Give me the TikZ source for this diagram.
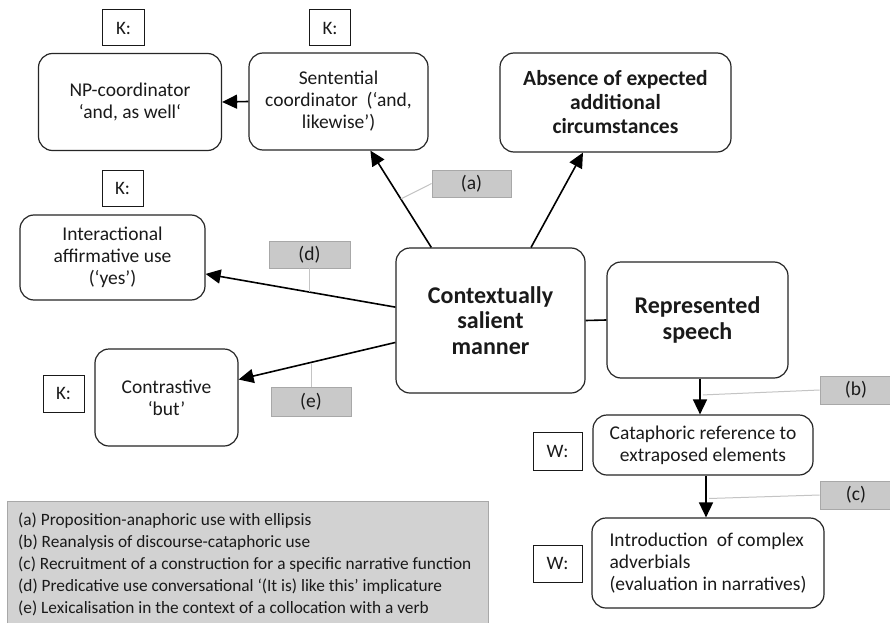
\documentclass[tikz,border=0pt]{standalone}
\usepackage{fontspec}
\setmainfont{Carlito}
\usetikzlibrary{arrows.meta,calc}
\definecolor{txt}{HTML}{1A1A1A}
\definecolor{lblfill}{HTML}{C9C9C9}
\definecolor{lbldraw}{HTML}{A8A8A8}
\definecolor{legfill}{HTML}{D2D2D2}
\definecolor{thinline}{HTML}{C4C4C4}
\begin{document}
\begin{tikzpicture}[x=1pt,y=-1pt,
  rbox/.style={draw=black!85, line width=1.2pt, rounded corners=14pt, align=center,
    inner sep=0pt, text=txt, font=\fontsize{19.5}{22}\selectfont},
  bbox/.style={rbox, font=\fontsize{21.5}{24}\selectfont\bfseries},
  hbox/.style={rbox, font=\fontsize{24}{25.5}\selectfont\bfseries},
  kbox/.style={draw=black!90, line width=1pt, inner sep=0pt, text=txt,
    font=\fontsize{19}{20}\selectfont},
  lbl/.style={draw=lbldraw, fill=lblfill, line width=0.8pt, inner sep=0pt, text=txt,
    font=\fontsize{19.5}{20}\selectfont},
  arr/.style={draw=black, line width=1.6pt, -{Triangle[length=15pt,width=14pt]}},
  plain/.style={draw=black, line width=1.6pt},
  thin/.style={draw=thinline, line width=1pt}
]
\useasboundingbox (0,0) rectangle (890,623);
\fill[white] (0,0) rectangle (890,623);

% legend
\fill[legfill] (7,501) rectangle (488,623);
\draw[lbldraw, line width=0.8pt] (7,623) -- (7,501) -- (488,501) -- (488,623);
\node[anchor=north west, align=left, inner sep=0pt, text=txt,
  font=\fontsize{17.3}{22}\selectfont] (legend) at (18,513)
  {(a) Proposition-anaphoric use with ellipsis\\
   (b) Reanalysis of discourse-cataphoric use\\
   (c) Recruitment of a construction for a specific narrative function\\
   (d) Predicative use conversational ‘(It is) like this’ implicature\\
   (e) Lexicalisation in the context of a collocation with a verb};

% main boxes
\node[rbox, minimum width=183pt, minimum height=97pt] (np) at (130,102)
  {NP-coordinator\\‘and, as well‘};
\node[rbox, minimum width=179pt, minimum height=97pt] (sent) at (338.5,101.5)
  {Sentential\\coordinator~ (‘and,\\likewise’)};
\node[bbox, minimum width=231pt, minimum height=99pt] (abs) at (615.5,102.5)
  {Absence of expected\\additional\\circumstances};
\node[rbox, minimum width=185pt, minimum height=85pt] (int) at (112.5,257.5)
  {Interactional\\affirmative use\\(‘yes’)};
\node[hbox, minimum width=189pt, minimum height=145pt] (ctx) at (490.5,320.5)
  {Contextually\\salient\\manner};
\node[hbox, minimum width=181pt, minimum height=116pt] (rep) at (697.5,320)
  {Represented\\speech};
\node[rbox, minimum width=143pt, minimum height=97pt] (contr) at (166.5,397.5)
  {Contrastive\\‘but’};
\node[rbox, minimum width=220pt, minimum height=60pt] (cat) at (703,445)
  {Cataphoric reference to\\extraposed elements};
\node[rbox, align=left, minimum width=232pt, minimum height=90pt] (intro) at (708,563)
  {Introduction~ of complex\\adverbials\\(evaluation in narratives)};

% K / W boxes
\node[kbox, minimum width=42pt, minimum height=36pt] (k1) at (123.5,28) {K:};
\node[kbox, minimum width=41pt, minimum height=36pt] (k2) at (330,28) {K:};
\node[kbox, minimum width=41pt, minimum height=36pt] (k3) at (122.5,188) {K:};
\node[kbox, minimum width=41pt, minimum height=37pt] (k4) at (63.5,393.5) {K:};
\node[kbox, minimum width=49pt, minimum height=38pt] (w1) at (557.5,451) {W:};
\node[kbox, minimum width=49pt, minimum height=37pt] (w2) at (557.5,563.5) {W:};

% grey labels
\node[lbl, minimum width=79pt, minimum height=27pt] (la) at (471.5,183.5) {(a)};
\node[lbl, minimum width=81pt, minimum height=27pt] (ld) at (309.5,254.5) {(d)};
\node[lbl, minimum width=80pt, minimum height=29pt] (le) at (311,401.5) {(e)};
\node[lbl, minimum width=72pt, minimum height=28pt] (lb) at (856,390) {(b)};
\node[lbl, minimum width=72pt, minimum height=28pt] (lc) at (856,495) {(c)};

% connectors
\draw[arr] (sent.west) -- (np.east);
\draw[arr] (ctx.129) -- coordinate[pos=0.5] (am) (sent.-57);
\draw[arr] (ctx.61) -- (abs.237);
\draw[arr] (ctx.172.7) -- coordinate[pos=0.45] (dm) (int.-10.4);
\draw[arr] (ctx.193.8) -- coordinate[pos=0.544] (em) (contr.14.8);
\draw[plain] (ctx.east) -- (rep.west);
\draw[arr] ($(rep.south)+(2.5,0)$) -- coordinate[pos=0.4] (bm) ($(rep.south |- cat.north)+(2.5,0)$);
\draw[arr] ($(cat.south)+(3,0)$) -- coordinate[pos=0.5] (cm) ($(cat.south |- intro.north)+(3,0)$);

\draw[thin] (la.west) -- (am);
\draw[thin] (ld.south) -- (ld.south |- dm);
\draw[thin] (le.north) -- (le.north |- em);
\draw[thin] (lb.west) -- ($(bm)+(3,2)$);
\draw[thin] (lc.west) -- ($(cm)+(3,2)$);
\end{tikzpicture}
\end{document}
